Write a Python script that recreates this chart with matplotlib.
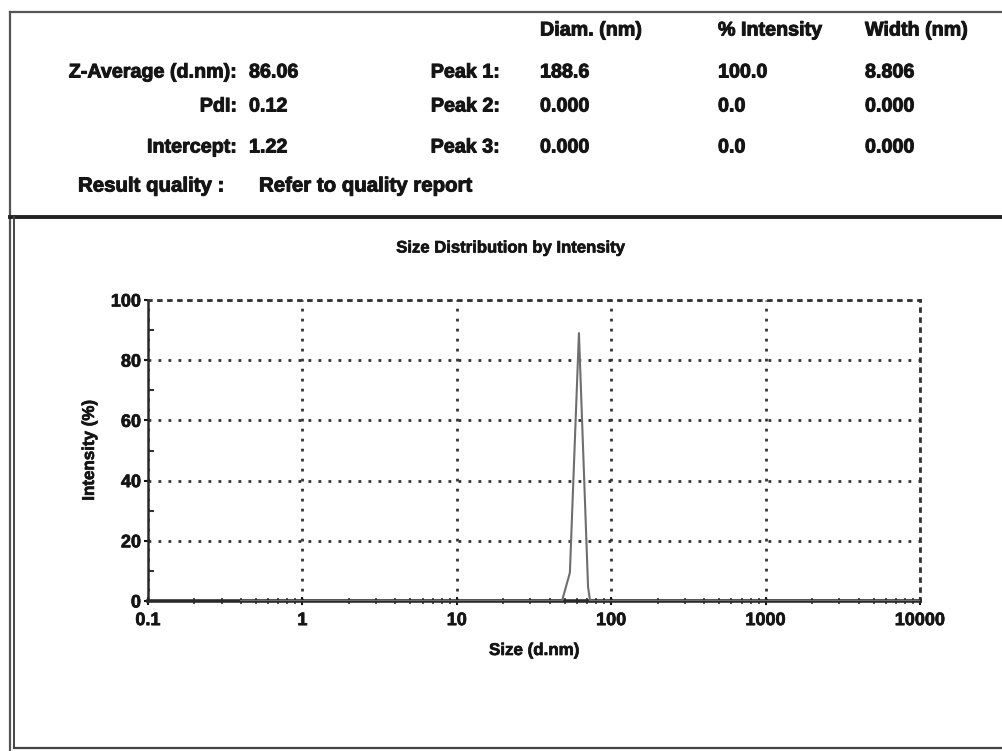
import matplotlib
matplotlib.use("Agg")
import matplotlib.pyplot as plt
import matplotlib.patheffects as pe
from matplotlib.lines import Line2D
from matplotlib.ticker import FixedLocator, NullFormatter, LogLocator

plt.rcParams['font.family'] = ['Liberation Sans', 'DejaVu Sans']
plt.rcParams['font.weight'] = 'bold'

# Size distribution (intensity-weighted)
size_nm = [0.4, 10.0, 48.0, 54.0, 61.8, 70.8, 73.0, 100.0, 10000.0]
intensity_pct = [0.0, 0.0, 0.0, 9.4, 89.0, 4.7, 0.0, 0.0, 0.0]

# Summary table
col_headers = ["Diam. (nm)", "% Intensity", "Width (nm)"]
left_labels = ["Z-Average (d.nm):", "PdI:", "Intercept:"]
left_values = ["86.06", "0.12", "1.22"]
peak_labels = ["Peak 1:", "Peak 2:", "Peak 3:"]
peak_diam = ["188.6", "0.000", "0.000"]
peak_int = ["100.0", "0.0", "0.0"]
peak_width = ["8.806", "0.000", "0.000"]
quality_label = "Result quality :"
quality_text = "Refer to quality report"

x_ticks = [0.1, 1, 10, 100, 1000, 10000]
x_ticklabels = ["0.1", "1", "10", "100", "1000", "10000"]
y_ticks = [0, 20, 40, 60, 80, 100]

W, H = 1002, 751
fig = plt.figure(figsize=(W / 100, H / 100), dpi=100)
fig.patch.set_facecolor("white")

def fx(px):
    return px / W

def fy(py):
    return 1 - py / H

ink = "#151515"
fs_head = 14.2
heavy = [pe.withStroke(linewidth=0.7, foreground=ink)]
heavy_small = [pe.withStroke(linewidth=0.5, foreground=ink)]

def htext(x, y, s, ha="left", size=fs_head):
    fig.text(fx(x), fy(y), s, fontsize=size, color=ink, va="center", ha=ha,
             weight="bold", path_effects=heavy)

# Header table
for txt, x in zip(col_headers, [540, 718, 865]):
    htext(x, 30, txt)

rows_y = [72, 106, 147]
for i, y in enumerate(rows_y):
    htext(237, y, left_labels[i], ha="right")
    htext(249, y, left_values[i])
    htext(500, y, peak_labels[i], ha="right")
    htext(540, y, peak_diam[i])
    htext(718, y, peak_int[i])
    htext(865, y, peak_width[i])

htext(78, 186, quality_label, size=fs_head + 0.5)
htext(259, 186, quality_text, size=fs_head + 0.5)

# Frame lines around the report
frame = dict(transform=fig.transFigure, color="#555555", linewidth=1.6)
fig.add_artist(Line2D([fx(10), fx(1002)], [fy(12), fy(12)], **frame))
fig.add_artist(Line2D([fx(10), fx(10)], [fy(12), fy(751)], **frame))
fig.add_artist(Line2D([fx(10), fx(1002)], [fy(217), fy(217)], transform=fig.transFigure, color="#222222", linewidth=2.8))
fig.add_artist(Line2D([fx(14), fx(14)], [fy(217), fy(748)], transform=fig.transFigure, color="#444444", linewidth=1.4))
fig.add_artist(Line2D([fx(14), fx(1002)], [fy(748), fy(748)], transform=fig.transFigure, color="#444444", linewidth=1.6))

# Plot panel
ax = fig.add_axes([fx(148), fy(601), fx(920) - fx(148), (601 - 300) / H])
ax.plot(size_nm, intensity_pct, color="#6e6e6e", linewidth=1.5, zorder=3)
ax.set_xscale("log")
ax.set_xlim(0.1, 10000)
ax.set_ylim(0, 100)

dots = (0, (1, 2.6))
ax.grid(True, which="major", color="#333333", linestyle=dots, linewidth=2.0)
ax.set_axisbelow(True)
for side in ["top", "right"]:
    ax.spines[side].set_linestyle(dots)
    ax.spines[side].set_linewidth(2.0)
    ax.spines[side].set_color("#333333")
for side in ["left", "bottom"]:
    ax.spines[side].set_color("#2a2a2a")
ax.spines["left"].set_linewidth(1.8)
ax.spines["bottom"].set_linewidth(2.6)

ax.xaxis.set_major_locator(FixedLocator(x_ticks))
ax.set_xticklabels(x_ticklabels)
ax.xaxis.set_minor_locator(LogLocator(base=10, subs=range(2, 10), numticks=20))
ax.xaxis.set_minor_formatter(NullFormatter())
ax.set_yticks(y_ticks)
ax.yaxis.set_minor_locator(FixedLocator([10, 30, 50, 70, 90]))

ax.tick_params(axis="both", which="major", labelsize=13, colors=ink, length=4, width=1.5)
ax.tick_params(axis="x", which="major", direction="inout", length=6, pad=5)
ax.tick_params(axis="x", which="minor", direction="inout", length=4, width=1.2, color="#333333")
ax.tick_params(axis="y", which="minor", direction="in", length=4, width=1.5, color="#333333")
ax.tick_params(axis="y", which="major", direction="out", length=3, pad=2)
for lab in ax.get_xticklabels() + ax.get_yticklabels():
    lab.set_fontweight("bold")
    lab.set_path_effects(heavy_small)

fig.text(fx(510), fy(248), "Size Distribution by Intensity", fontsize=12, weight="bold",
         color=ink, ha="center", va="center", path_effects=heavy_small)
ax.set_xlabel("Size (d.nm)", fontsize=12.2, weight="bold", color=ink, labelpad=10,
              path_effects=heavy_small)
ax.set_ylabel("Intensity (%)", fontsize=12.2, weight="bold", color=ink, labelpad=10,
              path_effects=heavy_small)

fig.savefig("out.png", dpi=100, facecolor="white")
